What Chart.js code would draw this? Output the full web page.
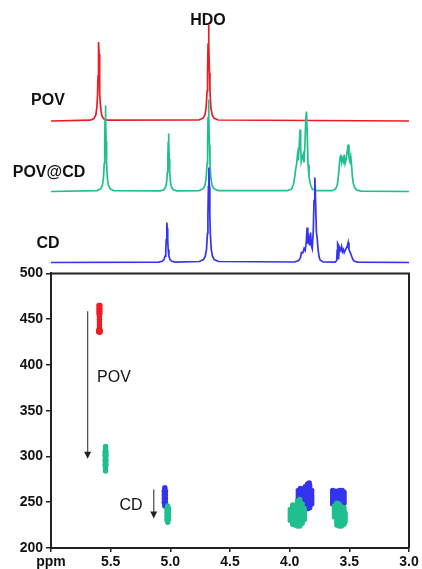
<!DOCTYPE html>
<html lang="en">

<head>
    <meta charset="UTF-8">
    <title>POV / POV@CD / CD</title>
    <script src="https://cdn.jsdelivr.net/npm/chart.js"></script>
    <style>
        html, body { margin: 0; padding: 0; background: #fff; }
        .frame { position: relative; width: 422px; height: 569px; overflow: hidden; font-family: 'Liberation Sans', Arial, sans-serif; }
        canvas { position: absolute; left: 0; }
        #espectros { top: 0; }
        #dosy { top: 262px; }
        .rotulo { position: absolute; transform: translate(-50%, -50%); color: #111; font-size: 16px; white-space: nowrap; }
        .negrito { font-weight: bold; }
    </style>
</head>

<body>
    <div class="frame">
        <canvas id="espectros" width="422" height="268"></canvas>
        <canvas id="dosy" width="422" height="307"></canvas>

        <div class="rotulo negrito" style="left: 208px; top: 20px;">HDO</div>
        <div class="rotulo negrito" style="left: 48px; top: 100px;">POV</div>
        <div class="rotulo negrito" style="left: 49px; top: 172px;">POV@CD</div>
        <div class="rotulo negrito" style="left: 48px; top: 243px;">CD</div>

        <div class="rotulo" style="left: 114px; top: 377px;">POV</div>
        <div class="rotulo" style="left: 131px; top: 505px;">CD</div>
    </div>

<script>
    // eixo x (ppm) e rotulos
    const xTickValues = [6, 5.5, 5, 4.5, 4, 3.5, 3];
    const xTickLabels = ['ppm', '5.5', '5.0', '4.5', '4.0', '3.5', '3.0'];
    const yTickValues = [200, 250, 300, 350, 400, 450, 500];

    // espectros 1H: [ppm, intensidade]
    const povSpectrum = [
        [6.00, 0], [5.67, 0.8], [5.64, 2.4], [5.625, 5.8], [5.616, 13], [5.610, 26], [5.606, 45], [5.603, 67], [5.600, 79],
        [5.597, 67], [5.594, 45], [5.590, 26], [5.584, 13], [5.575, 5.8], [5.56, 2.4], [5.53, 0.8],
        [4.76, 1], [4.725, 2.9], [4.71, 6.3], [4.70, 13], [4.692, 30], [4.688, 48], [4.684, 77], [4.680, 96],
        [4.676, 77], [4.672, 48], [4.668, 30], [4.66, 13], [4.65, 6.3], [4.635, 2.9], [4.60, 1], [3.00, 0]
    ];

    const povCdSpectrum = [
        [6.00, 0], [5.614, 0.9], [5.584, 2.6], [5.569, 6.3], [5.560, 14], [5.554, 28], [5.550, 50], [5.547, 73], [5.544, 86],
        [5.541, 73], [5.538, 50], [5.534, 28], [5.528, 14], [5.519, 6.3], [5.504, 2.6], [5.474, 0.9],
        [5.085, 0.6], [5.055, 1.7], [5.04, 4.2], [5.031, 9.3], [5.025, 19], [5.021, 33], [5.018, 49], [5.015, 58],
        [5.012, 49], [5.009, 33], [5.005, 19], [4.999, 9.3], [4.99, 4.2], [4.975, 1.7], [4.945, 0.6],
        [4.76, 0.9], [4.725, 2.8], [4.71, 6], [4.70, 13], [4.692, 28], [4.688, 46], [4.684, 74], [4.680, 92],
        [4.676, 74], [4.672, 46], [4.668, 28], [4.66, 13], [4.65, 6], [4.635, 2.8], [4.60, 0.9],
        [4.02, 0.8], [3.985, 2.5], [3.968, 7], [3.957, 15], [3.950, 22], [3.942, 27], [3.934, 37], [3.928, 31], [3.918, 50],
        [3.913, 62], [3.908, 45], [3.903, 30], [3.896, 34], [3.887, 37], [3.880, 29], [3.872, 47], [3.865, 73],
        [3.859, 80], [3.853, 58], [3.846, 27], [3.838, 15], [3.831, 10], [3.822, 5.5], [3.810, 2.5], [3.78, 0.8],
        [3.645, 0.8], [3.615, 2.5], [3.600, 7], [3.590, 17], [3.582, 29], [3.576, 35], [3.571, 37], [3.564, 29], [3.557, 33],
        [3.549, 30], [3.543, 37], [3.536, 28], [3.527, 32], [3.518, 40], [3.510, 47], [3.503, 34], [3.495, 30],
        [3.488, 35], [3.481, 26], [3.474, 14], [3.465, 7.5], [3.454, 3.5], [3.435, 1.3], [3.40, 0.4], [3.00, 0]
    ];

    const cdSpectrum = [
        [6.00, 0], [5.098, 0.4], [5.068, 1.2], [5.053, 2.9], [5.044, 6.4], [5.038, 13], [5.034, 23], [5.031, 34], [5.028, 40],
        [5.025, 34], [5.022, 23], [5.018, 13], [5.012, 6.4], [5.003, 2.9], [4.988, 1.2], [4.958, 0.4],
        [4.757, 1], [4.722, 2.9], [4.707, 6.3], [4.697, 13], [4.689, 29], [4.685, 47], [4.681, 76], [4.677, 95],
        [4.673, 76], [4.669, 47], [4.665, 29], [4.657, 13], [4.647, 6.3], [4.632, 2.9], [4.597, 1],
        [3.96, 0.5], [3.925, 2], [3.910, 4.5], [3.901, 10], [3.890, 9.5], [3.879, 14], [3.870, 12], [3.861, 20],
        [3.854, 35], [3.848, 19], [3.840, 24], [3.833, 17], [3.825, 30], [3.818, 17], [3.811, 14], [3.802, 32],
        [3.796, 62], [3.789, 85], [3.783, 62], [3.776, 30], [3.770, 25], [3.762, 13], [3.754, 6], [3.745, 2.5], [3.72, 0.6],
        [3.62, 0.4], [3.606, 1.8], [3.602, 12], [3.598, 19], [3.594, 18], [3.590, 3], [3.586, 12], [3.579, 14],
        [3.572, 12], [3.565, 16], [3.557, 11], [3.550, 13], [3.543, 10], [3.535, 12], [3.527, 14], [3.518, 16],
        [3.510, 20], [3.503, 13], [3.496, 11], [3.489, 9], [3.480, 6], [3.470, 3], [3.458, 1.3], [3.43, 0.4], [3.00, 0]
    ];

    // linhas de base de cada espectro (empilhados)
    const povBase = 147;
    const povCdBase = 76.5;
    const cdBase = 5.5;

    // manchas do DOSY: [ppm, D]
    const povSpots = [
        [5.590, 465], [5.598, 465], [5.590, 462], [5.598, 462], [5.590, 459], [5.598, 459],
        [5.590, 456], [5.598, 456], [5.594, 453],
        [5.594, 450], [5.594, 447], [5.594, 444], [5.594, 441],
        [5.588, 438], [5.594, 438], [5.600, 438], [5.588, 436], [5.594, 436], [5.600, 436]
    ];

    const povCdSpots = [
        // 5.54
        [5.543, 284], [5.543, 287], [5.543, 290], [5.543, 293], [5.543, 296], [5.543, 299], [5.543, 302],
        [5.543, 305], [5.543, 308], [5.543, 311], [5.539, 291], [5.539, 296], [5.539, 301], [5.539, 305],
        [5.547, 291], [5.547, 296], [5.547, 301], [5.547, 305],
        // 5.02
        [5.022, 228], [5.022, 231], [5.022, 234], [5.022, 237], [5.022, 240], [5.022, 243], [5.022, 246],
        [5.015, 231], [5.015, 235], [5.015, 239], [5.015, 243], [5.029, 231], [5.029, 235], [5.029, 239], [5.029, 243],
        // 3.9
        [3.995, 230], [3.995, 233], [3.995, 236], [3.995, 239], [3.995, 242],
        [3.975, 226], [3.975, 229], [3.975, 232], [3.975, 235], [3.975, 238], [3.975, 241], [3.975, 244], [3.975, 247],
        [3.955, 225], [3.955, 228], [3.955, 231], [3.955, 234], [3.955, 237], [3.955, 240], [3.955, 243], [3.955, 246],
        [3.935, 224], [3.935, 227], [3.935, 230], [3.935, 233], [3.935, 236], [3.935, 239], [3.935, 242], [3.935, 245],
        [3.935, 248], [3.935, 251],
        [3.915, 224], [3.915, 226], [3.915, 229], [3.915, 232], [3.915, 235], [3.915, 238], [3.915, 241], [3.915, 244],
        [3.915, 247], [3.915, 250], [3.915, 253],
        [3.895, 227], [3.895, 230], [3.895, 233], [3.895, 236], [3.895, 239], [3.895, 242], [3.895, 245], [3.895, 248],
        [3.877, 231], [3.877, 234], [3.877, 237], [3.877, 240], [3.877, 243],
        // 3.6
        [3.625, 234], [3.625, 237], [3.625, 240], [3.625, 243], [3.625, 246],
        [3.605, 225], [3.605, 228], [3.605, 231], [3.605, 234], [3.605, 237], [3.605, 240], [3.605, 243], [3.605, 246], [3.605, 249],
        [3.585, 224], [3.585, 227], [3.585, 230], [3.585, 233], [3.585, 236], [3.585, 239], [3.585, 242], [3.585, 245], [3.585, 248],
        [3.565, 224], [3.565, 227], [3.565, 230], [3.565, 233], [3.565, 236], [3.565, 239], [3.565, 242], [3.565, 245],
        [3.545, 226], [3.545, 229], [3.545, 232], [3.545, 235], [3.545, 238], [3.545, 241], [3.545, 244],
        [3.535, 229], [3.535, 232], [3.535, 235], [3.535, 238]
    ];

    const cdSpots = [
        // 5.04
        [5.046, 246], [5.046, 249], [5.046, 252], [5.046, 255], [5.046, 258], [5.046, 261], [5.046, 264], [5.046, 266],
        [5.041, 250], [5.041, 254], [5.041, 258], [5.041, 262], [5.051, 250], [5.051, 254], [5.051, 258], [5.051, 262],
        // 3.85
        [3.928, 251], [3.928, 254], [3.928, 257], [3.928, 260], [3.928, 263],
        [3.910, 250], [3.910, 253], [3.910, 256], [3.910, 259], [3.910, 262], [3.910, 265],
        [3.890, 249], [3.890, 252], [3.890, 255], [3.890, 258], [3.890, 261], [3.890, 264],
        [3.870, 246], [3.870, 249], [3.870, 252], [3.870, 255], [3.870, 258], [3.870, 261], [3.870, 264], [3.870, 267],
        [3.850, 243], [3.850, 246], [3.850, 249], [3.850, 252], [3.850, 255], [3.850, 258], [3.850, 261], [3.850, 264],
        [3.850, 267], [3.850, 270],
        [3.832, 244], [3.832, 247], [3.832, 250], [3.832, 253], [3.832, 256], [3.832, 259], [3.832, 262], [3.832, 265],
        [3.832, 268], [3.836, 271],
        [3.815, 248], [3.815, 251], [3.815, 254], [3.815, 257], [3.815, 260], [3.815, 263],
        // 3.6
        [3.640, 248], [3.640, 251], [3.640, 254], [3.640, 257], [3.640, 260], [3.640, 263],
        [3.620, 248], [3.620, 251], [3.620, 254], [3.620, 257], [3.620, 260], [3.620, 262],
        [3.600, 247], [3.600, 250], [3.600, 253], [3.600, 256], [3.600, 259], [3.600, 262],
        [3.580, 247], [3.580, 250], [3.580, 253], [3.580, 256], [3.580, 259], [3.580, 263],
        [3.560, 248], [3.560, 251], [3.560, 254], [3.560, 257], [3.560, 260], [3.560, 263],
        [3.544, 249], [3.544, 252], [3.544, 255], [3.544, 258], [3.544, 261]
    ];

    // setas do DOSY: ppm, D inicial, D final
    const setas = [
        { x: 5.693, de: 458.7, ate: 297.5 },
        { x: 5.139, de: 263.8, ate: 232.3 }
    ];

    const vermelho = '#ee1c24';
    const verde = '#1fbf8f';
    const azul = '#3434ee';
    const fonte = "'Liberation Sans', Arial, sans-serif";

    Chart.defaults.font.family = fonte;
    Chart.defaults.animation = false;

    function linha(spec, base, cor, ordem) {
        return {
            data: spec.map(p => ({ x: p[0], y: p[1] + base })),
            showLine: true,
            borderColor: cor,
            borderWidth: 1.7,
            pointRadius: 0,
            tension: 0,
            clip: false,
            order: ordem
        };
    }

    new Chart(document.getElementById('espectros'), {
        type: 'scatter',
        data: {
            datasets: [
                linha(povSpectrum, povBase, vermelho, 3),
                linha(povCdSpectrum, povCdBase, verde, 2),
                linha(cdSpectrum, cdBase, azul, 1)
            ]
        },
        options: {
            responsive: false,
            devicePixelRatio: 1,
            layout: { padding: { left: 51, right: 13, top: 0, bottom: 0 } },
            plugins: { legend: { display: false }, tooltip: { enabled: false } },
            scales: {
                x: { type: 'linear', min: 3, max: 6, reverse: true, display: false },
                y: { type: 'linear', min: 0, max: 268, display: false }
            }
        }
    });

    // moldura + setas
    const extras = {
        id: 'extras',
        afterDatasetsDraw(chart) {
            const ctx = chart.ctx;
            const a = chart.chartArea;
            const sx = chart.scales.x, sy = chart.scales.y;
            ctx.save();
            ctx.strokeStyle = '#222';
            ctx.lineWidth = 2;
            ctx.beginPath();
            ctx.moveTo(a.left, a.top);
            ctx.lineTo(a.right, a.top);
            ctx.lineTo(a.right, a.bottom);
            ctx.stroke();

            ctx.strokeStyle = '#555';
            ctx.fillStyle = '#222';
            ctx.lineWidth = 1.3;
            setas.forEach(s => {
                const x = sx.getPixelForValue(s.x);
                const y1 = sy.getPixelForValue(s.de);
                const y2 = sy.getPixelForValue(s.ate);
                ctx.beginPath();
                ctx.moveTo(x, y1);
                ctx.lineTo(x, y2 - 6);
                ctx.stroke();
                ctx.beginPath();
                ctx.moveTo(x - 3.5, y2 - 7);
                ctx.lineTo(x + 3.5, y2 - 7);
                ctx.lineTo(x, y2);
                ctx.closePath();
                ctx.fill();
            });
            ctx.restore();
        }
    };

    function manchas(pts, cor, ordem) {
        return {
            data: pts.map(p => ({ x: p[0], y: p[1] })),
            pointRadius: 2.7,
            pointStyle: 'circle',
            pointBackgroundColor: cor,
            pointBorderWidth: 0,
            order: ordem
        };
    }

    new Chart(document.getElementById('dosy'), {
        type: 'scatter',
        data: {
            datasets: [
                manchas(povSpots, vermelho, 3),
                manchas(cdSpots, azul, 2),
                manchas(povCdSpots, verde, 1)
            ]
        },
        options: {
            responsive: false,
            devicePixelRatio: 1,
            layout: { padding: { left: 0, right: 13, top: 10, bottom: 0 } },
            plugins: { legend: { display: false }, tooltip: { enabled: false } },
            scales: {
                x: {
                    type: 'linear', min: 3, max: 6, reverse: true,
                    afterBuildTicks: s => { s.ticks = xTickValues.map(v => ({ value: v })); },
                    afterFit: s => { s.height = 21; },
                    ticks: {
                        autoSkip: false, maxRotation: 0, padding: 2, color: '#111',
                        font: { size: 14, weight: 'bold' },
                        callback: v => xTickLabels[xTickValues.indexOf(v)]
                    },
                    grid: { drawOnChartArea: false, tickLength: 4, color: '#222', lineWidth: 1.5 },
                    border: { color: '#222', width: 2 }
                },
                y: {
                    type: 'linear', min: 200, max: 500,
                    afterBuildTicks: s => { s.ticks = yTickValues.map(v => ({ value: v })); },
                    afterFit: s => { s.width = 51; },
                    ticks: { padding: 3, color: '#111', font: { size: 14, weight: 'bold' } },
                    grid: { drawOnChartArea: false, tickLength: 5, color: '#222', lineWidth: 1.5 },
                    border: { color: '#222', width: 2 }
                }
            }
        },
        plugins: [extras]
    });
</script>
</body>

</html>
